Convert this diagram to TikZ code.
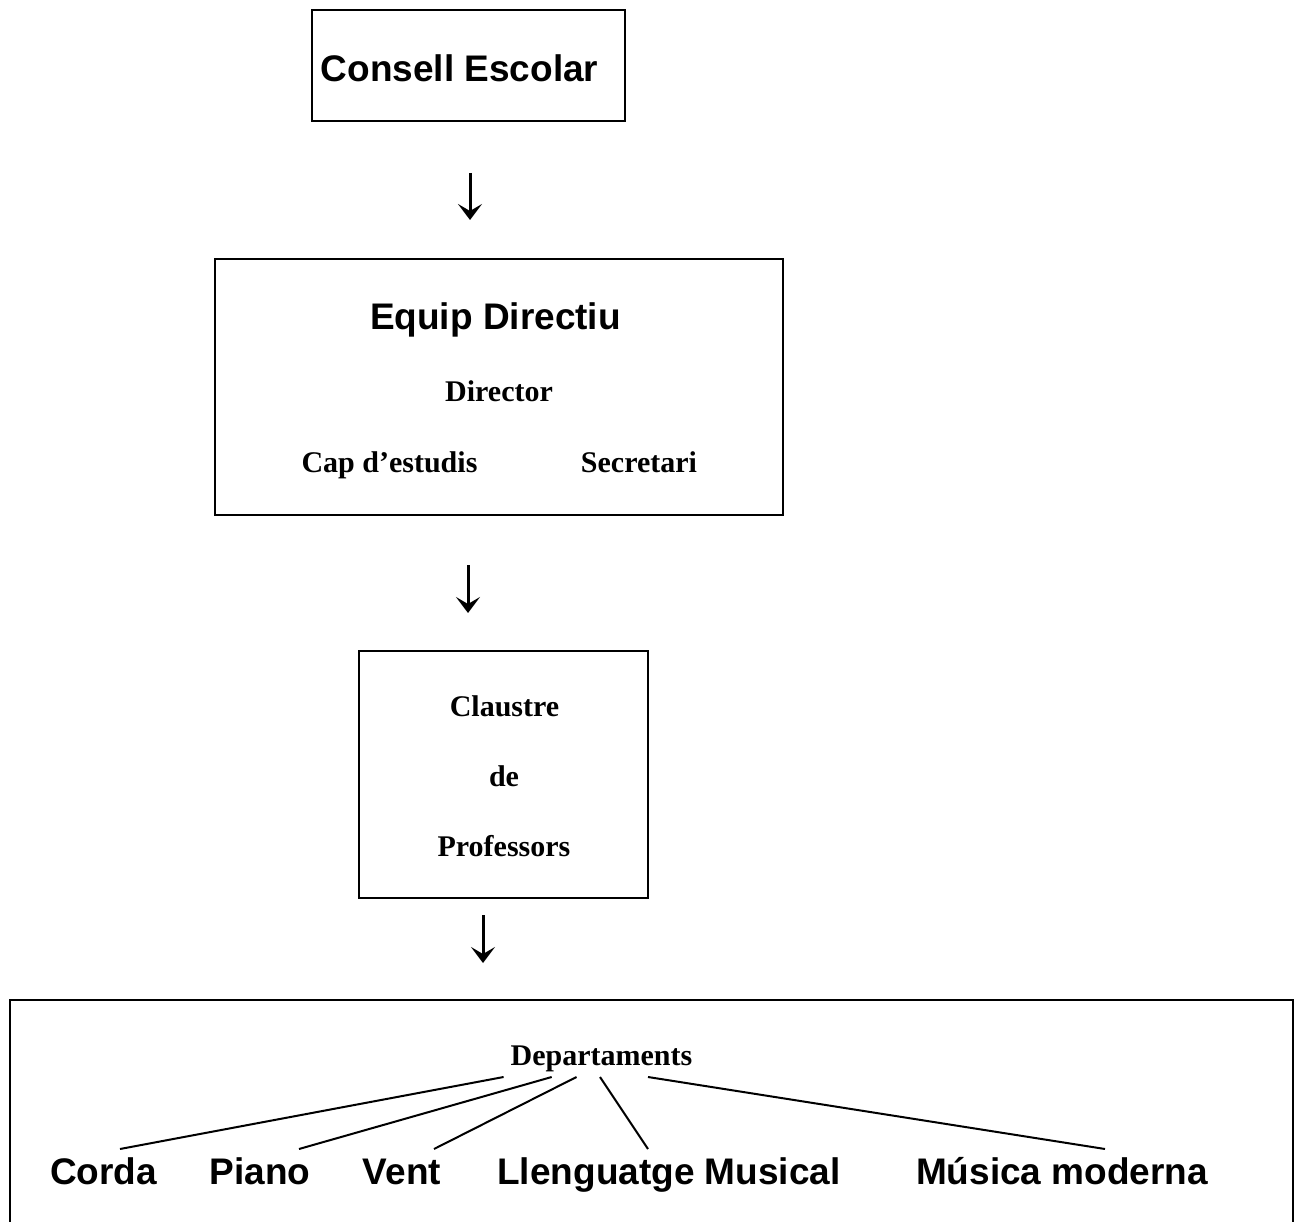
\documentclass[tikz,border=0pt]{standalone}
\usepackage{fontspec}
\setmainfont{Liberation Serif}
\setsansfont{Liberation Sans}
\usetikzlibrary{arrows.meta}
\tikzset{
  box/.style={draw=black, line width=2.4pt, inner sep=0pt, fill=none},
  big/.style={anchor=base, inner sep=0pt, font=\sffamily\bfseries\fontsize{37}{44}\selectfont},
  small/.style={anchor=base, inner sep=0pt, font=\rmfamily\bfseries\fontsize{30}{36}\selectfont},
  arr/.style={line width=3pt, -{Stealth[length=16pt,width=24pt,inset=7pt]}},
  link/.style={line width=2pt}
}
\begin{document}
\begin{tikzpicture}[x=1pt,y=-1pt]
\clip (0,0) rectangle (1296,1222);
\fill[white] (0,0) rectangle (1296,1222);
% boxes
\node[box, minimum width=313pt, minimum height=111pt] (b1) at (468.5,65.5) {};
\node[box, minimum width=568pt, minimum height=256pt] (b2) at (499,387) {};
\node[box, minimum width=289pt, minimum height=247pt] (b3) at (503.5,774.5) {};
\node[box, minimum width=1283pt, minimum height=260pt] (b4) at (651.5,1130) {};
% texts
\node[big] (ce) at (459.5,82) {Consell Escolar};
\node[big] (ed) at (495.5,330) {Equip Directiu};
\node[small] (dir) at (499,402) {Director};
\node[small] (cap) at (389.5,472) {Cap d’estudis};
\node[small] (sec) at (639,472) {Secretari};
\node[small] (cl1) at (504.5,716) {Claustre};
\node[small] (cl2) at (504,786) {de};
\node[small] (cl3) at (504,856) {Professors};
\node[small] (dep) at (601.5,1065) {Departaments};
\node[big] (corda) at (103.5,1184) {Corda};
\node[big] (piano) at (260,1184) {Piano};
\node[big] (vent) at (402,1184) {Vent};
\node[big] (llm) at (669,1184) {Llenguatge Musical};
\node[big] (mm) at (1062,1184) {Música moderna};
% arrows
\coordinate (a1t) at (470,173); \coordinate (a1b) at (470,220);
\coordinate (a2t) at (468,565); \coordinate (a2b) at (468,613);
\coordinate (a3t) at (483,915); \coordinate (a3b) at (483,963);
\draw[arr] (a1t) -- (a1b);
\draw[arr] (a2t) -- (a2b);
\draw[arr] (a3t) -- (a3b);
% department links
\coordinate (d1) at (503.6,1077); \coordinate (e1) at (120,1149);
\coordinate (d2) at (551.7,1077); \coordinate (e2) at (299,1149);
\coordinate (d3) at (576.5,1077); \coordinate (e3) at (434,1149);
\coordinate (d4) at (600,1077);   \coordinate (e4) at (648,1149);
\coordinate (d5) at (648,1077);   \coordinate (e5) at (1105,1149);
\draw[link] (d1) -- (e1);
\draw[link] (d2) -- (e2);
\draw[link] (d3) -- (e3);
\draw[link] (d4) -- (e4);
\draw[link] (d5) -- (e5);
\end{tikzpicture}
\end{document}
